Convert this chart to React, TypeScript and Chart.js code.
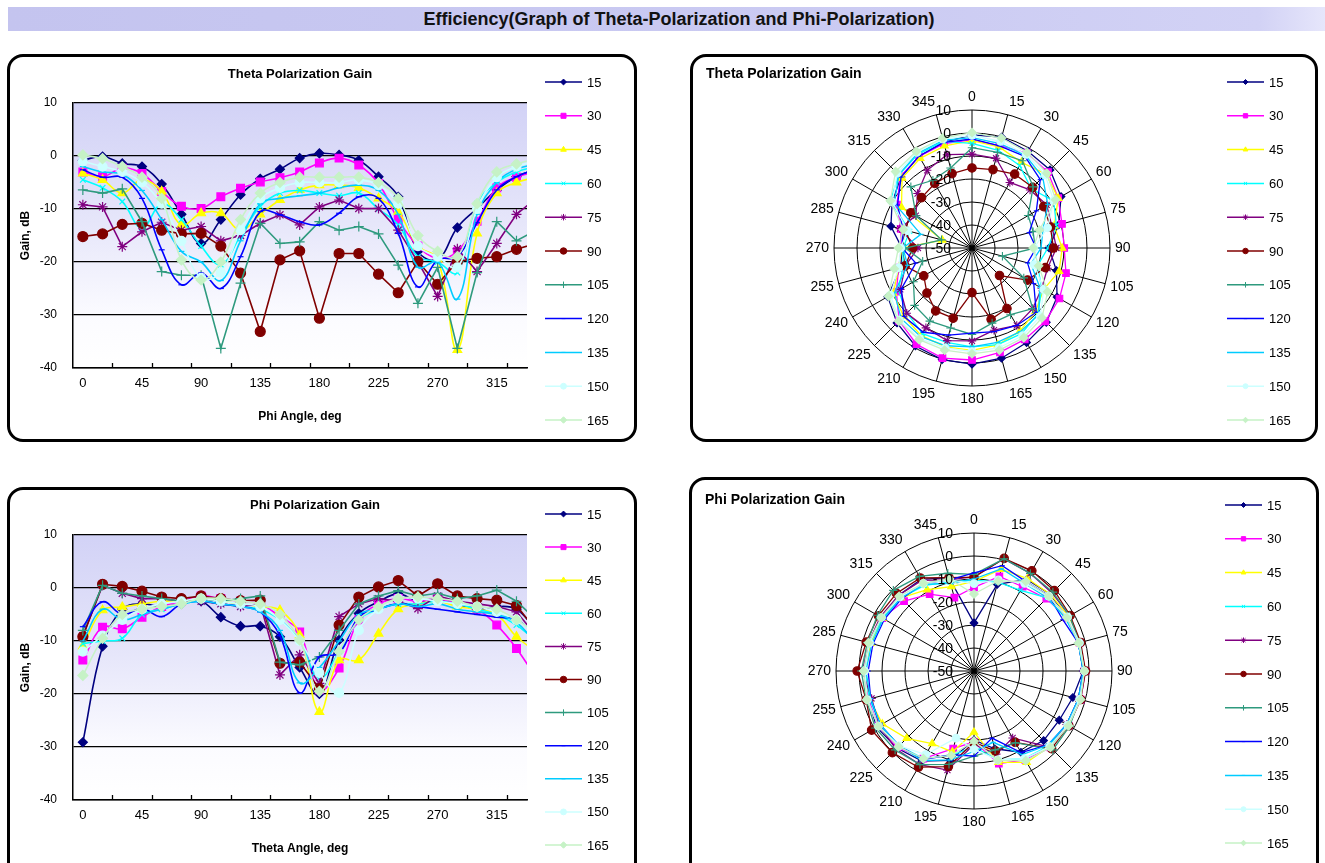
import React, { useEffect, useRef } from 'react';
import { Chart, registerables } from 'chart.js';
import { drawPoint } from 'chart.js/helpers';

Chart.register(...registerables);

// ---------------- data ----------------
const ANGLES = [0, 15, 30, 45, 60, 75, 90, 105, 120, 135, 150, 165, 180, 195, 210, 225, 240, 255, 270, 285, 300, 315, 330, 345];
const SERIES_LABELS = ['15', '30', '45', '60', '75', '90', '105', '120', '135', '150', '165'];
const X_TICK_LABELS = [0, 45, 90, 135, 180, 225, 270, 315];
const X_TICK_MARKS = [22.5, 52.5, 82.5, 112.5, 142.5, 172.5, 202.5, 232.5, 262.5, 292.5, 322.5];
const GAIN_TICKS = [10, 0, -10, -20, -30, -40];
const RADAR_TICKS = [10, 0, -10, -20, -30, -40, -50];

// Theta polarization gain (dB) vs phi angle, one list per theta cut
const THETA_15 = [-0.8, -0.1, -1.4, -2.0, -5.3, -11.0, -16.5, -12.0, -7.3, -4.3, -2.5, -0.4, 0.5, 0.2, -0.8, -3.9, -7.7, -18.0, -19.5, -13.5, -9.9, -6.4, -3.9, -2.5];
const THETA_30 = [-3.0, -3.9, -2.3, -3.3, -6.7, -9.5, -9.9, -7.7, -6.1, -4.9, -4.1, -3.0, -1.3, -0.4, -1.7, -5.2, -12.0, -17.0, -19.3, -18.0, -12.3, -6.0, -4.0, -3.0];
const THETA_45 = [-3.3, -4.5, -7.0, -4.5, -6.7, -13.0, -10.8, -10.8, -14.0, -11.0, -8.3, -6.4, -5.5, -5.5, -6.0, -8.0, -10.5, -17.0, -19.5, -36.6, -14.6, -7.0, -5.0, -4.0];
const THETA_60 = [-4.5, -6.0, -8.6, -13.6, -9.0, -12.0, -17.0, -20.5, -15.0, -9.5, -7.0, -6.5, -7.0, -7.5, -7.0, -10.0, -13.0, -19.0, -20.0, -22.0, -9.0, -5.0, -3.0, -2.0];
const THETA_75 = [-9.2, -9.6, -17.1, -14.3, -12.5, -14.0, -13.3, -16.0, -15.0, -12.7, -11.1, -13.0, -9.6, -8.3, -9.9, -9.9, -14.0, -20.0, -26.5, -17.5, -21.8, -16.5, -11.0, -8.0];
const THETA_90 = [-15.2, -14.7, -12.9, -12.7, -14.0, -14.7, -14.6, -17.0, -22.1, -33.1, -19.6, -17.9, -30.6, -18.4, -18.4, -22.3, -25.8, -19.9, -24.2, -19.9, -19.3, -19.0, -17.6, -16.5];
const THETA_105 = [-6.4, -7.0, -6.2, -12.4, -21.8, -22.5, -22.5, -36.3, -24.0, -12.7, -16.5, -16.2, -12.4, -14.0, -13.3, -14.7, -20.6, -27.8, -21.0, -36.3, -22.0, -12.4, -16.0, -14.0];
const THETA_120 = [-2.6, -4.0, -4.0, -8.0, -17.7, -24.3, -22.1, -25.0, -19.0, -10.5, -11.1, -12.4, -13.0, -10.8, -7.7, -8.0, -14.6, -24.7, -19.6, -19.0, -12.6, -6.4, -3.9, -2.5];
const THETA_135 = [-2.0, -3.0, -3.5, -6.5, -12.0, -18.0, -20.0, -23.5, -16.0, -9.0, -8.0, -7.5, -7.0, -6.0, -5.5, -6.5, -11.0, -21.0, -20.0, -27.0, -11.0, -5.0, -2.5, -1.5];
const THETA_150 = [-1.0, -2.0, -3.0, -5.0, -9.0, -16.0, -23.0, -22.0, -14.0, -8.0, -6.0, -5.0, -5.0, -5.0, -4.5, -5.5, -9.0, -17.0, -19.0, -21.0, -10.0, -4.0, -2.0, -1.0];
const THETA_165 = [0.2, -0.5, -2.0, -4.0, -8.0, -19.6, -23.4, -20.0, -12.0, -7.0, -5.0, -4.0, -4.0, -4.0, -4.0, -5.0, -8.0, -15.0, -18.0, -19.0, -9.0, -3.0, -1.5, -0.5];

// Phi polarization gain (dB) vs theta angle, one list per phi cut
const PHI_15 = [-29.1, -11.0, -4.0, -3.0, -3.5, -3.0, -2.5, -5.5, -7.2, -7.2, -9.2, -15.0, -20.0, -9.8, -4.8, -2.6, -1.1, -2.5, -2.0, -3.0, -4.0, -3.5, -4.0, -8.0];
const PHI_30 = [-13.6, -7.4, -7.7, -5.5, -3.5, -2.5, -1.5, -2.0, -2.5, -3.0, -5.4, -8.3, -19.2, -15.1, -6.0, -3.0, -2.0, -2.5, -2.0, -3.0, -4.0, -7.0, -11.4, -17.0];
const PHI_45 = [-11.0, -4.2, -3.6, -3.0, -2.5, -2.5, -2.0, -2.5, -3.0, -3.5, -4.2, -8.9, -23.4, -13.6, -13.6, -8.6, -4.0, -3.0, -2.5, -3.5, -4.0, -5.0, -9.2, -12.0];
const PHI_60 = [-10.5, -10.0, -9.5, -5.0, -4.0, -3.0, -2.5, -3.0, -3.5, -4.0, -6.0, -10.0, -17.0, -12.0, -6.0, -4.0, -3.0, -3.0, -2.5, -3.0, -4.0, -5.0, -7.0, -10.0];
const PHI_75 = [-9.0, 0.5, -1.0, -2.0, -2.0, -2.5, -2.5, -3.0, -3.5, -3.0, -16.4, -12.6, -18.0, -5.4, -3.0, -2.0, -2.5, -3.9, -1.5, -2.5, -3.0, -3.5, -4.5, -9.0];
const PHI_90 = [-9.2, 0.7, 0.3, -0.6, -1.7, -2.0, -1.5, -2.0, -2.4, -2.3, -14.2, -14.0, -19.0, -7.0, -1.7, 0.2, 1.4, -1.5, 0.8, -1.5, -2.0, -2.3, -3.3, -8.0];
const PHI_105 = [-8.0, 0.5, -1.0, -1.5, -2.0, -2.5, -2.0, -2.5, -2.0, -1.5, -14.0, -14.5, -13.0, -8.0, -3.0, -1.5, -0.5, -1.5, -1.0, -2.0, -1.5, -0.4, -2.5, -6.0];
const PHI_120 = [-7.3, -2.6, -5.0, -3.9, -5.4, -3.0, -2.5, -3.0, -3.5, -4.5, -9.0, -19.8, -13.0, -12.3, -5.5, -4.0, -3.0, -3.5, -4.0, -4.5, -5.0, -5.5, -6.0, -9.0];
const PHI_135 = [-10.0, -4.0, -6.0, -5.0, -4.0, -3.0, -2.5, -3.0, -3.5, -4.5, -8.0, -17.9, -15.0, -10.0, -5.0, -4.0, -3.0, -3.5, -3.0, -4.0, -4.5, -5.0, -6.5, -10.5];
const PHI_150 = [-12.0, -9.0, -6.0, -4.0, -3.0, -2.5, -2.0, -2.5, -3.0, -3.5, -6.0, -10.0, -16.0, -19.8, -8.0, -4.0, -2.0, -2.0, -2.5, -3.0, -3.5, -4.5, -6.0, -9.0];
const PHI_165 = [-16.5, -9.5, -5.0, -4.0, -3.5, -3.0, -2.0, -2.0, -2.5, -3.0, -5.0, -9.8, -19.5, -12.0, -6.0, -3.5, -2.0, -1.7, -2.0, -2.5, -3.5, -4.0, -6.0, -8.5];

const THETA_SERIES = [THETA_15, THETA_30, THETA_45, THETA_60, THETA_75, THETA_90, THETA_105, THETA_120, THETA_135, THETA_150, THETA_165];
const PHI_SERIES = [PHI_15, PHI_30, PHI_45, PHI_60, PHI_75, PHI_90, PHI_105, PHI_120, PHI_135, PHI_150, PHI_165];

// ---------------- styles ----------------
const COLORS = ['#000080', '#FF00FF', '#FFFF00', '#00FFFF', '#800080', '#800000', '#2E9A7E', '#0000FF', '#00CCFF', '#CCFFFF', '#C6F2C6'];
const MARKERS = ['rectRot', 'rect', 'triangle', 'crossRot', 'star', 'circle', 'cross', 'line', 'line', 'circle', 'rectRot'];
const MARKER_SIZES = [4.5, 5.5, 5, 4, 5, 5, 5, 3, 3, 4.5, 5];
const TENSIONS = [0.4, 0.4, 0.4, 0.4, 0, 0, 0, 0.4, 0.4, 0.4, 0.4];

const FONT = '"Liberation Sans", Arial, Helvetica, sans-serif';

Chart.defaults.font.family = FONT;
Chart.defaults.color = '#000';

// ---------------- plugins ----------------
const panelTextPlugin = {
  id: 'panelText',
  afterDraw(chart: any, _args: any, opts: any) {
    const ctx = chart.ctx;
    ctx.save();
    ctx.fillStyle = '#000';
    ctx.textBaseline = 'middle';
    ctx.font = `bold ${opts.titleSize}px ${FONT}`;
    if (opts.titleAlign === 'center') {
      ctx.textAlign = 'center';
      ctx.fillText(opts.title, (chart.chartArea.left + chart.chartArea.right) / 2 + (opts.titleDX || 0), opts.titleY);
    } else {
      ctx.textAlign = 'left';
      ctx.fillText(opts.title, opts.titleX, opts.titleY);
    }
    chart.data.datasets.forEach((ds: any, i: number) => {
      const y = opts.legendY + i * opts.legendGap;
      const x = opts.legendX;
      ctx.strokeStyle = ds.borderColor;
      ctx.lineWidth = 1.5;
      ctx.beginPath();
      ctx.moveTo(x, y);
      ctx.lineTo(x + 37, y);
      ctx.stroke();
      ctx.fillStyle = ds.pointBackgroundColor;
      ctx.strokeStyle = ds.pointBorderColor;
      ctx.lineWidth = 1;
      drawPoint(ctx, { pointStyle: ds.pointStyle, radius: ds.pointRadius * 0.65, rotation: 0, borderWidth: 1 }, x + 18.5, y);
      ctx.fillStyle = '#000';
      ctx.font = `13px ${FONT}`;
      ctx.textAlign = 'left';
      ctx.fillText(ds.label, x + 42, y + 1);
    });
    ctx.restore();
  },
};

const plotBackgroundPlugin = {
  id: 'plotBackground',
  beforeDraw(chart: any) {
    const { ctx, chartArea: a } = chart;
    const g = ctx.createLinearGradient(0, a.top, 0, a.bottom);
    g.addColorStop(0, '#d2d2f6');
    g.addColorStop(0.45, '#e6e6fa');
    g.addColorStop(0.8, '#fbfbff');
    g.addColorStop(1, '#ffffff');
    ctx.save();
    ctx.fillStyle = g;
    ctx.fillRect(a.left, a.top, a.right - a.left, a.bottom - a.top);
    ctx.restore();
  },
};

const xTickMarksPlugin = {
  id: 'xTickMarks',
  afterDraw(chart: any) {
    const { ctx, scales } = chart;
    const xs = scales.x;
    ctx.save();
    ctx.strokeStyle = '#000';
    ctx.lineWidth = 1.3;
    X_TICK_MARKS.forEach((v) => {
      const px = Math.round(xs.getPixelForValue(v)) + 0.5;
      ctx.beginPath();
      ctx.moveTo(px, xs.top);
      ctx.lineTo(px, xs.top - 5);
      ctx.stroke();
    });
    ctx.restore();
  },
};

const radarLabelsPlugin = {
  id: 'radarLabels',
  afterDraw(chart: any) {
    const { ctx } = chart;
    const s = chart.scales.r;
    ctx.save();
    ctx.fillStyle = '#000';
    ctx.font = `14px ${FONT}`;
    ctx.textBaseline = 'middle';
    ctx.textAlign = 'right';
    RADAR_TICKS.forEach((v) => {
      const r = s.getDistanceFromCenterForValue(v);
      ctx.fillText(String(v), s.xCenter - 21, s.yCenter - r + 1);
    });
    ANGLES.forEach((a, i) => {
      const p = s.getPointPosition(i, s.drawingArea + 5);
      const th = p.angle + Math.PI / 2;
      const sn = Math.sin(th);
      const cs = Math.cos(th);
      ctx.textAlign = Math.abs(sn) < 0.05 ? 'center' : sn > 0 ? 'left' : 'right';
      ctx.fillText(String(a), p.x, p.y - cs * 8);
    });
    ctx.restore();
  },
};

// ---------------- configs ----------------
function lineDatasets(series: number[][]) {
  return series.map((vals, i) => ({
    label: SERIES_LABELS[i],
    data: vals.map((v, k) => ({ x: ANGLES[k], y: v })),
    borderColor: COLORS[i],
    backgroundColor: COLORS[i],
    pointBackgroundColor: COLORS[i],
    pointBorderColor: COLORS[i],
    pointStyle: MARKERS[i],
    pointRadius: MARKER_SIZES[i],
    pointBorderWidth: 1.2,
    borderWidth: 1.6,
    tension: TENSIONS[i],
    fill: false,
    order: 20 - i,
    clip: { left: 8, right: 0, top: 8, bottom: 8 },
  }));
}

function radarDatasets(series: number[][]) {
  return series.map((vals, i) => ({
    label: SERIES_LABELS[i],
    data: vals,
    borderColor: COLORS[i],
    backgroundColor: COLORS[i],
    pointBackgroundColor: COLORS[i],
    pointBorderColor: COLORS[i],
    pointStyle: MARKERS[i],
    pointRadius: MARKER_SIZES[i] * 0.85,
    pointBorderWidth: 1.1,
    borderWidth: 1.3,
    tension: 0,
    fill: false,
    order: 20 - i,
  }));
}

function lineConfig(series: number[][], title: string, xTitle: string, top: number, bottomPad: number, titleY: number, legendY: number, legendGap: number, titleDX: number, titleSize: number): any {
  return {
    type: 'line',
    data: { datasets: lineDatasets(series) },
    options: {
      animation: false,
      responsive: false,
      maintainAspectRatio: false,
      events: [],
      layout: { padding: { left: 0, right: 107, top, bottom: bottomPad } },
      plugins: {
        legend: { display: false },
        title: { display: false },
        tooltip: { enabled: false },
        panelText: { title, titleAlign: 'center', titleY, titleDX, titleSize, legendX: 535, legendY, legendGap },
      },
      scales: {
        x: {
          type: 'linear',
          min: -7.5,
          max: 338,
          afterBuildTicks: (s: any) => {
            s.ticks = X_TICK_LABELS.map((v) => ({ value: v }));
          },
          afterFit: (s: any) => {
            s.height = 60;
          },
          ticks: { autoSkip: false, maxRotation: 0, padding: 8, color: '#000', font: { size: 13, family: FONT } },
          grid: { display: false, drawTicks: false },
          border: { display: true, color: '#000', width: 1.5 },
          title: { display: true, text: xTitle, color: '#000', font: { size: 12, weight: 'bold', family: FONT }, padding: { top: 0, bottom: 4 } },
        },
        y: {
          type: 'linear',
          min: -40,
          max: 10,
          afterBuildTicks: (s: any) => {
            s.ticks = GAIN_TICKS.map((v) => ({ value: v }));
          },
          afterFit: (s: any) => {
            s.width = 63;
          },
          ticks: { padding: 16, color: '#000', font: { size: 12, family: FONT } },
          grid: { color: '#000', lineWidth: 1.3, drawTicks: false },
          border: { display: true, color: '#000', width: 1.5 },
          title: { display: true, text: 'Gain, dB', color: '#000', font: { size: 12, weight: 'bold', family: FONT }, padding: { top: 8, bottom: 0 } },
        },
      },
    },
    plugins: [plotBackgroundPlugin, xTickMarksPlugin, panelTextPlugin],
  };
}

function radarConfig(series: number[][], title: string, pad: any, titleY: number, legendX: number, legendY: number, legendGap: number, titleSize: number): any {
  return {
    type: 'radar',
    data: { labels: ANGLES.map(String), datasets: radarDatasets(series) },
    options: {
      animation: false,
      responsive: false,
      maintainAspectRatio: false,
      events: [],
      layout: { padding: pad },
      plugins: {
        legend: { display: false },
        title: { display: false },
        tooltip: { enabled: false },
        panelText: { title, titleAlign: 'left', titleX: 13, titleY, titleSize, legendX, legendY, legendGap },
      },
      scales: {
        r: {
          min: -50,
          max: 10,
          ticks: { stepSize: 10, display: false },
          grid: { circular: true, color: '#000', lineWidth: 1 },
          angleLines: { color: '#000', lineWidth: 1 },
          pointLabels: { display: false },
        },
      },
    },
    plugins: [panelTextPlugin, radarLabelsPlugin],
  };
}

// ---------------- components ----------------
function Panel({ left, top, width, height, canvasH, makeConfig }: any) {
  const ref = useRef<HTMLCanvasElement>(null);
  const cw = width - 6;
  useEffect(() => {
    const chart = new Chart(ref.current as HTMLCanvasElement, makeConfig());
    return () => chart.destroy();
  }, []);
  return (
    <div
      style={{
        position: 'absolute',
        left,
        top,
        width,
        height,
        boxSizing: 'border-box',
        border: '3px solid #000',
        borderRadius: 16,
        background: '#fff',
        overflow: 'hidden',
      }}
    >
      <canvas ref={ref} width={cw} height={canvasH} style={{ display: 'block', width: cw, height: canvasH }} />
    </div>
  );
}

export default function App() {
  return (
    <div
      style={{
        position: 'fixed',
        left: 0,
        top: 0,
        width: 1325,
        height: 863,
        overflow: 'hidden',
        background: '#fff',
        fontFamily: FONT,
      }}
    >
      <div
        style={{
          position: 'absolute',
          left: 8,
          top: 7,
          width: 1317,
          height: 24,
          lineHeight: '24px',
          background: 'linear-gradient(to right, #c4c4ef 0%, #cacaf2 60%, #d2d2f5 95%, #e6e6fb 100%)',
          textAlign: 'center',
          fontWeight: 'bold',
          fontSize: 18,
          fontFamily: FONT,
          color: '#111',
          paddingLeft: 25,
          boxSizing: 'border-box',
        }}
      >
        Efficiency(Graph of Theta-Polarization and Phi-Polarization)
      </div>
      <Panel
        left={7}
        top={54}
        width={630}
        height={388}
        canvasH={382}
        makeConfig={() => lineConfig(THETA_SERIES, 'Theta Polarization Gain', 'Phi Angle, deg', 46, 11, 17, 25, 33.8, 0, 13)}
      />
      <Panel
        left={690}
        top={54}
        width={628}
        height={388}
        canvasH={382}
        makeConfig={() => radarConfig(THETA_SERIES, 'Theta Polarization Gain', { left: 141, right: 205, top: 53, bottom: 53 }, 17, 534, 25, 33.8, 14)}
      />
      <Panel
        left={7}
        top={487}
        width={630}
        height={420}
        canvasH={382}
        makeConfig={() => lineConfig(PHI_SERIES, 'Phi Polarization Gain', 'Theta Angle, deg', 45, 12, 15, 24, 33.1, 15, 13)}
      />
      <Panel
        left={689}
        top={477}
        width={630}
        height={420}
        canvasH={382}
        makeConfig={() => radarConfig(PHI_SERIES, 'Phi Polarization Gain', { left: 144, right: 204, top: 53, bottom: 53 }, 20, 533, 25, 33.8, 14)}
      />
    </div>
  );
}
